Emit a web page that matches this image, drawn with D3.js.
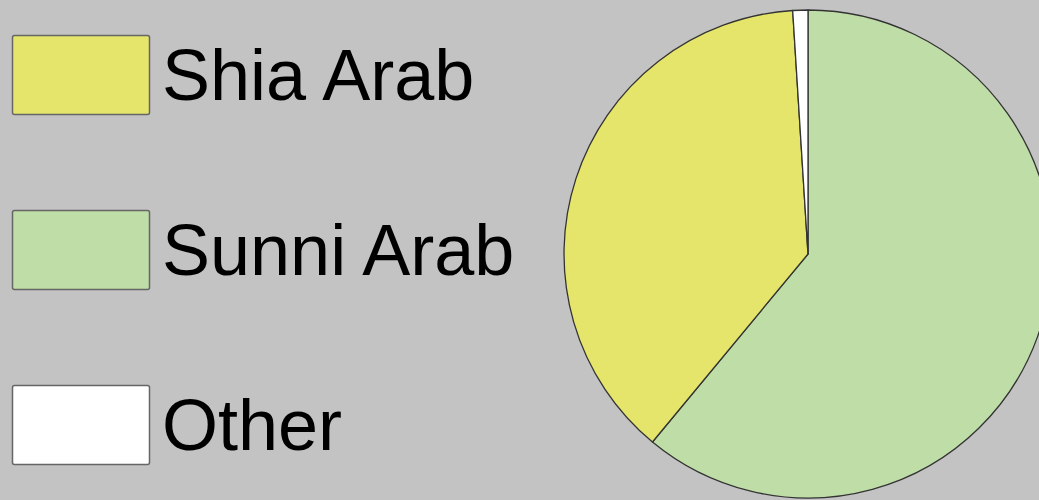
<!DOCTYPE html>
<html>
<head>
<meta charset="utf-8">
<script src="https://cdn.jsdelivr.net/npm/d3@7"></script>
<style>
  html, body { margin: 0; padding: 0; background: #c3c3c3; overflow: hidden; }
  svg { display: block; }
</style>
</head>
<body>
<svg id="chart" width="1039" height="500"></svg>
<script>
// Population shares by group (percent)
const categories = ["Sunni Arab", "Shia Arab", "Other"];
const values = [61, 38, 1];
const colors = ["#bfdea7", "#e5e56b", "#ffffff"];
const legendOrder = ["Shia Arab", "Sunni Arab", "Other"];

const W = 1039, H = 500;
const svg = d3.select("#chart");
svg.append("rect").attr("width", W).attr("height", H).attr("fill", "#c3c3c3");

const color = d3.scaleOrdinal().domain(categories).range(colors);

// Pie, clockwise from 12 o'clock in data order
const cx = 808, cy = 254, radius = 244;
const pie = d3.pie().sort(null).value(d => d.value);
const arc = d3.arc().innerRadius(0).outerRadius(radius);
const data = categories.map((c, i) => ({ name: c, value: values[i] }));

svg.append("g")
  .attr("transform", `translate(${cx},${cy})`)
  .selectAll("path")
  .data(pie(data))
  .join("path")
  .attr("d", arc)
  .attr("fill", d => color(d.data.name))
  .attr("stroke", "#333")
  .attr("stroke-width", 1.3)
  .attr("stroke-linejoin", "round");

// Legend
const legend = svg.append("g");
const rowY = d3.scalePoint().domain(legendOrder).range([35, 385]);
const rows = legend.selectAll("g")
  .data(legendOrder)
  .join("g")
  .attr("transform", d => `translate(0,${rowY(d)})`);

rows.append("rect")
  .attr("x", 12.5).attr("y", 0.5)
  .attr("width", 137).attr("height", 79)
  .attr("rx", 2)
  .attr("fill", d => color(d))
  .attr("stroke", "#666")
  .attr("stroke-width", 1.5);

rows.append("text")
  .attr("x", 162).attr("y", 65)
  .attr("font-family", "'Liberation Sans', Arial, sans-serif")
  .attr("font-size", 72)
  .attr("fill", "#000")
  .text(d => d);
</script>
</body>
</html>
